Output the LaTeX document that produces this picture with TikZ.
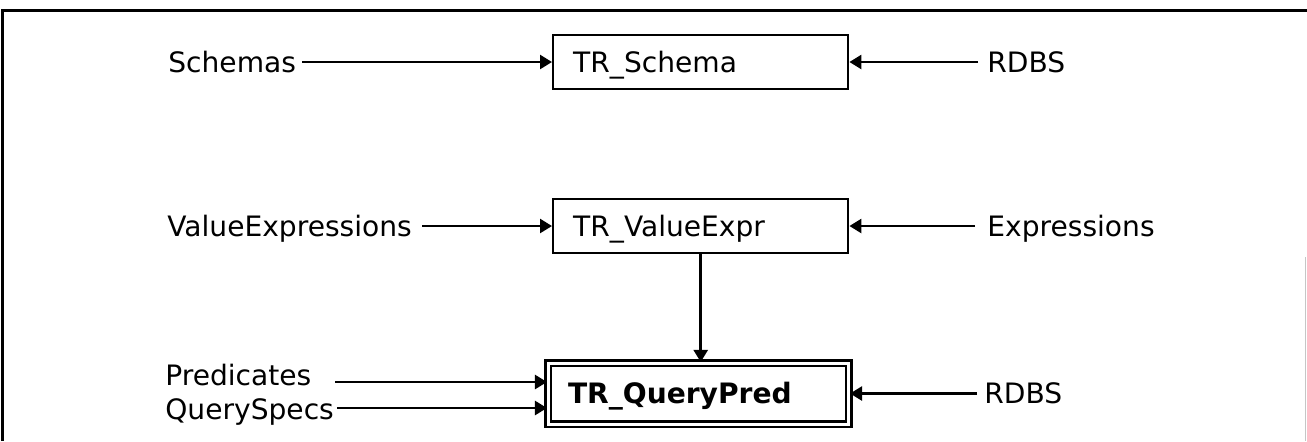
\documentclass[tikz,border=0pt]{standalone}
\usepackage{fontspec}
\setmainfont{DejaVu Sans}
\usetikzlibrary{arrows.meta}
\newcommand{\mylblfont}{\fontsize{16}{19}\selectfont}
\newcommand{\myboldfont}{\fontsize{16}{19}\selectfont\bfseries}
\begin{document}
\begin{tikzpicture}[x=0.02cm,y=-0.02cm,
		feed/.style={line width=1.4pt,-{Triangle[length=0.24cm,width=0.28cm]}},
		lbl/.style={anchor=west,inner sep=0pt,text height=11.7pt,text depth=0pt,font=\mylblfont},
		trbox/.style={draw,line width=1.4pt,anchor=west,minimum width=5.9cm,minimum height=1.08cm,
			inner xsep=0.4cm,inner ysep=0pt,text width=5.1cm,text height=11.7pt,text depth=0pt,
			align=left,font=\mylblfont},
		trmain/.style={draw,line width=1.2pt,double,double distance=0.06cm,minimum width=6.02cm,
			minimum height=1.22cm,inner xsep=0.4cm,inner ysep=0pt,text width=5.22cm,
			text height=11.7pt,text depth=0pt,align=left,font=\myboldfont}]
					%Page area and frame
					\useasboundingbox (0,0) rectangle (1307,441);
					\coordinate (frameTL) at (2.5,10.5);
					\coordinate (frameTR) at (1307,10.5);
					\coordinate (frameBL) at (2.5,441);
					\draw [line width=1.6pt] (frameBL) -- (frameTL) -- (frameTR);
					\draw [gray!45,line width=0.8pt] (1305.5,257) -- (1305.5,441);
					%The three boxes
					\node [trbox] (schema) at (552,62) {TR\_Schema};
					\node [trbox] (valexpr) at (552,226) {TR\_ValueExpr};
					\node [trmain] (qpred) at (698.5,393.5) {TR\_QueryPred};
					%Inputs on the left
					\node [lbl] (schemas) at (168,62) {Schemas};
					\node [lbl] (valexprs) at (167,226) {ValueExpressions};
					\node [lbl] (preds) at (165,375) {Predicates};
					\node [lbl] (qspecs) at (165,409) {QuerySpecs};
					%Inputs on the right
					\node [lbl] (rdbsTop) at (987,62) {RDBS};
					\node [lbl] (exprs) at (987,226) {Expressions};
					\node [lbl] (rdbsLow) at (984,393.5) {RDBS};
					%Arrows into TR_Schema
					\draw [feed,shorten <=0.12cm] (schemas.east) -- (schema.west);
					\draw [feed,shorten <=0.18cm] (rdbsTop.west) -- (schema.east);
					%Arrows into TR_ValueExpr
					\draw [feed,shorten <=0.2cm] (valexprs.east) -- (valexpr.west);
					\draw [feed,shorten <=0.24cm] (exprs.west) -- (valexpr.east);
					%Arrows into TR_QueryPred
					\coordinate (predtail) at (335,382);
					\coordinate (spectail) at (337,408);
					\draw [feed] (predtail) -- (predtail -| qpred.west);
					\draw [feed] (spectail) -- (spectail -| qpred.west);
					\draw [feed,shorten <=0.14cm] (rdbsLow.west) -- (qpred.east);
					\draw [feed] (valexpr.south) -- (valexpr.south |- qpred.north);
					\end{tikzpicture}
\end{document}
